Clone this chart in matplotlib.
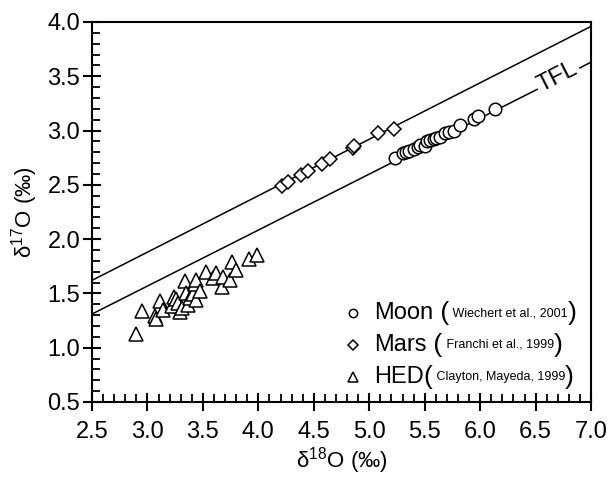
import matplotlib
matplotlib.use('Agg')
import matplotlib.pyplot as plt
from matplotlib.ticker import MultipleLocator

plt.rcParams['font.family'] = ['Liberation Sans', 'DejaVu Sans']
plt.rcParams['mathtext.default'] = 'regular'

# terrestrial fractionation line and the parallel line through the Mars data
line_x = [2.5, 7.0]
tfl_y = [1.31, 3.63]
mars_line_y = [1.62, 3.96]

# Moon (Wiechert et al., 2001)
moon_x = [5.23, 5.30, 5.33, 5.36, 5.40, 5.44, 5.46, 5.50, 5.52, 5.55,
          5.58, 5.60, 5.64, 5.68, 5.72, 5.76, 5.82, 5.94, 5.98, 6.13]
moon_y = [2.75, 2.79, 2.80, 2.81, 2.83, 2.85, 2.87, 2.86, 2.90, 2.91,
          2.92, 2.93, 2.94, 2.98, 2.99, 3.00, 3.05, 3.11, 3.13, 3.20]

# Mars (Franchi et al., 1999)
mars_x = [4.21, 4.27, 4.38, 4.45, 4.57, 4.65, 4.85, 4.86, 5.08, 5.22]
mars_y = [2.49, 2.53, 2.59, 2.63, 2.69, 2.74, 2.84, 2.86, 2.98, 3.01]

# HED (Clayton, Mayeda, 1999)
hed_x = [2.90, 2.95, 3.07, 3.08, 3.11, 3.14, 3.22, 3.24, 3.26, 3.28,
         3.29, 3.31, 3.34, 3.35, 3.37, 3.38, 3.41, 3.43, 3.44, 3.44,
         3.47, 3.53, 3.59, 3.62, 3.67, 3.68, 3.74, 3.76, 3.80, 3.92, 3.99]
hed_y = [1.13, 1.34, 1.29, 1.26, 1.43, 1.35, 1.38, 1.47, 1.45, 1.41,
         1.33, 1.37, 1.61, 1.50, 1.39, 1.46, 1.49, 1.59, 1.62, 1.44,
         1.52, 1.70, 1.64, 1.69, 1.56, 1.65, 1.62, 1.79, 1.72, 1.82, 1.85]

legend_names = ['Moon', 'Mars', 'HED']
legend_refs = ['Wiechert et al., 2001', 'Franchi et al., 1999', 'Clayton, Mayeda, 1999']
legend_markers = ['o', 'D', '^']

fig = plt.figure(figsize=(6.10, 4.79), dpi=100)
ax = fig.add_axes([0.1508, 0.1608, 0.8182, 0.7933])

ax.plot(line_x, mars_line_y, color='black', lw=1.1, zorder=1)
ax.plot(line_x, tfl_y, color='black', lw=1.1, zorder=1)

mk = dict(linestyle='none', mfc='white', mec='black', mew=1.1, zorder=3)
ax.plot(moon_x, moon_y, marker='o', ms=9, **mk)
ax.plot(mars_x, mars_y, marker='D', ms=7.5, **mk)
ax.plot(hed_x, hed_y, marker='^', ms=10.5, **mk)

ax.text(6.7, 3.49, 'TFL', rotation=27, fontsize=17, ha='center', va='center',
        rotation_mode='anchor',
        bbox=dict(facecolor='white', edgecolor='none', pad=1.5), zorder=2)

ax.set_xlim(2.5, 7.0)
ax.set_ylim(0.5, 4.0)
ax.xaxis.set_major_locator(MultipleLocator(0.5))
ax.xaxis.set_minor_locator(MultipleLocator(0.1))
ax.yaxis.set_major_locator(MultipleLocator(0.5))
ax.yaxis.set_minor_locator(MultipleLocator(0.1))
ax.xaxis.set_major_formatter(plt.FormatStrFormatter('%.1f'))
ax.yaxis.set_major_formatter(plt.FormatStrFormatter('%.1f'))

for s in ax.spines.values():
    s.set_linewidth(1.5)
ax.tick_params(which='major', direction='inout', length=13, width=1.5,
               labelsize=17, top=False, right=False)
ax.tick_params(which='minor', direction='in', length=6, width=1.3,
               top=False, right=False)
ax.tick_params(axis='x', which='major', pad=7)
ax.tick_params(axis='y', which='major', pad=2)

ax.set_xlabel('δ$^{18}$O (‰)', fontsize=16, labelpad=2)
ax.set_ylabel('δ$^{17}$O (‰)', fontsize=16, labelpad=5)

# legend built by hand: big name, big bracket, small citation
rows_y = [0.234, 0.150, 0.066]
for name, ref, m, yy in zip(legend_names, legend_refs, legend_markers, rows_y):
    ms = {'o': 6, 'D': 5.5, '^': 7.5}[m]
    ax.plot([0.523], [yy], marker=m, ms=ms, mfc='white', mec='black', mew=1.1,
            transform=ax.transAxes, clip_on=False)
    t = ax.text(0.565, yy, name, fontsize=17, va='center', transform=ax.transAxes)
    sep = ' (' if name != 'HED' else '('
    t2 = ax.annotate(sep, xy=(1, 0.5), xycoords=t, fontsize=19, va='center')
    t3 = ax.annotate(' ' + ref, xy=(1, 0.5), xycoords=t2, fontsize=9, va='center')
    ax.annotate(')', xy=(1, 0.5), xycoords=t3, fontsize=19, va='center')

fig.savefig('out.png', dpi=100)
